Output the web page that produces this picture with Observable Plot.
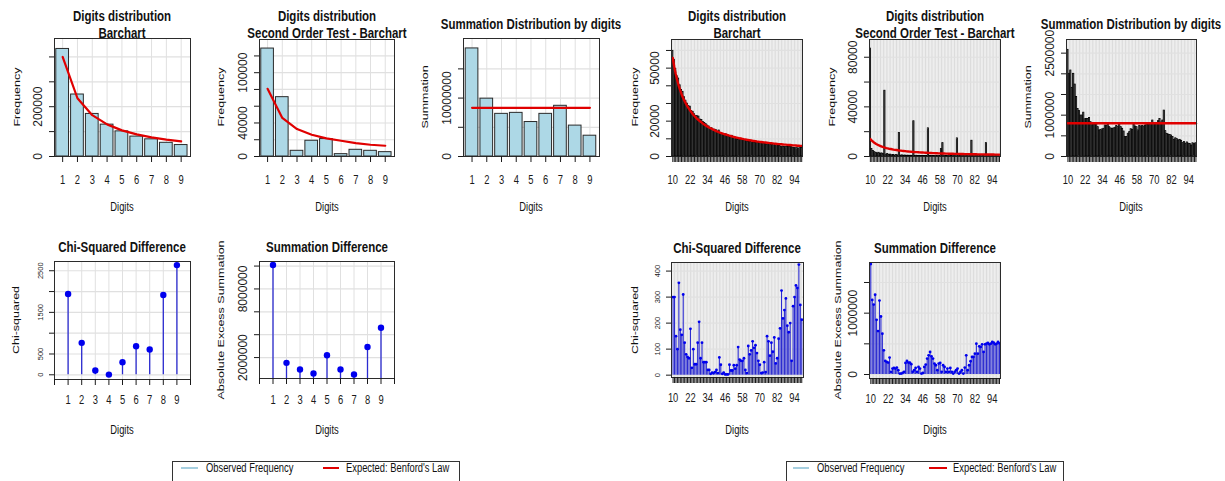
<!DOCTYPE html>
<html><head><meta charset="utf-8">
<script src="https://cdn.jsdelivr.net/npm/d3@7"></script>
<script src="https://cdn.jsdelivr.net/npm/@observablehq/plot@0.6"></script>
<style>
html,body{margin:0;padding:0;background:#fff;}
#root{position:relative;width:1225px;height:481px;overflow:hidden;font-family:"Liberation Sans",Arial,sans-serif;color:#111;}
.ttl{position:absolute;white-space:nowrap;transform:translate(-50%,-50%) scaleX(0.82);font-size:14px;font-weight:bold;line-height:17px;text-align:center;color:#111;}
.lbl{position:absolute;white-space:nowrap;transform:translate(-50%,-50%) scaleX(0.78);font-size:12px;line-height:14px;}
.ylbl{position:absolute;white-space:nowrap;transform:translate(-50%,-50%) rotate(-90deg) scaleY(0.78);font-size:12.5px;line-height:14px;}
.leg{position:absolute;border:1px solid #333;background:#fff;}
.legtxt{position:absolute;white-space:nowrap;transform:translateY(-50%) scaleX(0.78);transform-origin:0 50%;font-size:12px;line-height:14px;}
.legline{position:absolute;height:2px;}
</style>
</head><body><div id="root"></div>
<script>
// ---------- first-digit analysis (left) ----------
const digits1 = [1, 2, 3, 4, 5, 6, 7, 8, 9];
const fdObserved = [432000, 249000, 171000, 128000, 101000, 80000, 69000, 55000, 46000];
const fdExpected = [400000, 234000, 166000, 129000, 105000, 89000, 77000, 68000, 61000];
const soObserved = [128800, 70800, 6800, 18800, 20800, 2800, 8000, 6800, 5200];
const soExpected = [80800, 46000, 32800, 26000, 21600, 18800, 16000, 14000, 12800];
const sumObserved = [18500000, 9900000, 7300000, 7470000, 5900000, 7300000, 8680000, 5290000, 3560000];
const sumExpected = [8330000, 8330000, 8330000, 8330000, 8330000, 8330000, 8330000, 8330000, 8330000];
const chiFirst = [1941, 767, 104, 5, 303, 687, 607, 1917, 2636];
const sumDiffFirst = [10090000, 1540000, 960000, 610000, 2200000, 960000, 520000, 2930000, 4610000];

// ---------- first-two-digits analysis (right) ----------
const digits2 = [10,11,12,13,14,15,16,17,18,19,20,21,22,23,24,25,26,27,28,29,30,31,32,33,34,35,36,37,38,39,
40,41,42,43,44,45,46,47,48,49,50,51,52,53,54,55,56,57,58,59,60,61,62,63,64,65,66,67,68,69,
70,71,72,73,74,75,76,77,78,79,80,81,82,83,84,85,86,87,88,89,90,91,92,93,94,95,96,97,98,99];
const tdObserved = [
59800,54700,49500,45400,44100,40300,37700,36600,33600,31600,
29900,28500,28200,25700,25300,23900,23000,22800,22600,20900,
20700,19500,18900,18300,17500,17000,15700,16000,14900,15200,
14900,13800,14700,12700,12800,12400,12400,12500,11900,11100,
11100,11700,10400,10400,10100,9400,9500,9400,9300,9000,
9300,9200,8300,8300,8200,7800,7800,7700,7600,7700,
7700,7900,7800,7400,7600,6700,6700,6900,6500,6600,
6300,6600,6400,6000,5900,5400,5600,5400,5300,5500,
5500,5400,5800,5000,4900,4700,4700,4500,4700,4900];
const tdExpected = [
55700,50800,46800,43300,40300,37700,35400,33400,31600,30000,
28500,27200,26000,24900,23800,22900,22000,21200,20500,19800,
19200,18500,18000,17400,16900,16400,16000,15600,15200,14800,
14400,14100,13700,13400,13100,12800,12600,12300,12100,11800,
11600,11300,11100,10900,10700,10500,10300,10200,10000,9800,
9700,9500,9300,9200,9100,8900,8800,8700,8500,8400,
8300,8200,8100,8000,7900,7800,7700,7600,7500,7400,
7300,7200,7100,7000,7000,6900,6800,6700,6700,6600,
6500,6500,6400,6300,6300,6200,6100,6100,6000,6000];
const so2Observed = [
87000,6000,4500,3500,3000,2500,3000,2200,2500,2000,
53000,1500,2000,1200,1500,1000,1200,800,1200,900,
19000,700,900,600,800,500,700,500,600,500,
28400,500,600,400,500,400,500,400,450,400,
22700,400,500,400,450,300,400,300,400,6000,
10800,300,400,350,300,300,350,300,300,300,
14600,300,350,300,300,250,300,300,250,300,
12700,300,250,300,300,200,300,200,300,200,
10800,200,300,200,250,200,200,250,200,200];
const so2Expected = [
14000,12800,11700,10900,10100,9500,8900,8400,7900,7500,
7200,6800,6500,6200,6000,5800,5500,5300,5200,5000,
4800,4700,4500,4400,4300,4100,4000,3900,3800,3700,
3600,3500,3500,3400,3300,3200,3200,3100,3000,3000,
2900,2850,2800,2740,2690,2650,2600,2550,2500,2470,
2430,2390,2350,2310,2270,2240,2210,2180,2150,2120,
2090,2060,2030,2000,1980,1950,1930,1900,1880,1860,
1840,1810,1790,1770,1750,1730,1710,1690,1680,1660,
1640,1620,1610,1590,1570,1560,1540,1520,1510,1500];
const sum2Observed = [
2580000,2000000,2080000,1660000,2000000,1740000,1440000,1150000,1100000,990000,
990000,1060000,900000,910000,905000,930000,830000,775000,775000,770000,
790000,710000,630000,645000,655000,670000,750000,745000,775000,710000,
680000,665000,680000,695000,740000,710000,775000,710000,670000,605000,
470000,470000,550000,590000,660000,645000,775000,725000,710000,630000,
740000,725000,740000,725000,750000,790000,760000,775000,775000,870000,
790000,775000,790000,855000,905000,820000,870000,1110000,613000,548000,
530000,520000,508000,470000,403000,440000,420000,390000,403000,380000,
323000,350000,310000,340000,310000,300000,266000,320000,300000,320000];
const sum2Expected = [
806000,806000,806000,806000,806000,806000,806000,806000,806000,806000,
806000,806000,806000,806000,806000,806000,806000,806000,806000,806000,
806000,806000,806000,806000,806000,806000,806000,806000,806000,806000,
806000,806000,806000,806000,806000,806000,806000,806000,806000,806000,
806000,806000,806000,806000,806000,806000,806000,806000,806000,806000,
806000,806000,806000,806000,806000,806000,806000,806000,806000,806000,
806000,806000,806000,806000,806000,806000,806000,806000,806000,806000,
806000,806000,806000,806000,806000,806000,806000,806000,806000,806000,
806000,806000,806000,806000,806000,806000,806000,806000,806000,806000];
const chiTwo = [
300,300,150,100,355,175,155,310,125,80,
70,65,178,28,100,42,42,125,205,65,
125,50,50,50,20,20,5,10,8,12,
20,8,68,40,5,10,3,3,3,40,
18,18,38,25,38,108,60,55,55,65,
20,8,112,80,95,130,105,115,85,55,
40,8,10,50,12,150,130,75,125,90,
145,45,65,140,180,325,218,250,295,190,
165,200,55,265,300,345,335,425,270,213];
const sumDiffTwo = [
1800000,1216000,1140000,1300000,892000,708000,1205000,946000,665000,395000,
222000,205000,195000,276000,43000,97000,108000,97000,113000,70000,
16000,16000,25000,43000,189000,222000,195000,195000,168000,43000,
70000,108000,43000,124000,97000,16000,25000,124000,162000,260000,
313000,368000,295000,260000,178000,151000,70000,178000,189000,43000,
151000,124000,43000,97000,43000,108000,43000,16000,43000,70000,
97000,16000,43000,70000,16000,113000,313000,70000,151000,216000,
286000,286000,340000,503000,340000,460000,449000,492000,368000,492000,
503000,514000,492000,503000,530000,519000,492000,503000,530000,508000];

// tick labels
const ticks1to9 = [1, 2, 3, 4, 5, 6, 7, 8, 9];
const ticks0to10 = [0, 1, 2, 3, 4, 5, 6, 7, 8, 9, 10];
const labels2 = [10, 22, 34, 46, 58, 70, 82, 94];

// ---------- helpers ----------
const FONT = "Liberation Sans, Arial, sans-serif";
const root = document.getElementById("root");
const GRID = "#e0e0e0";
const GRID2 = "#dcdcdc";

function rows(xs, ...cols) {
  return xs.map((x, i) => ({x, a: cols[0] ? cols[0][i] : null, b: cols[1] ? cols[1][i] : null}));
}
function compress(svg, k) {
  svg.querySelectorAll("text").forEach(t => {
    const tr = t.getAttribute("transform") || "";
    if (tr.includes("rotate")) return;
    const L = t.getComputedTextLength();
    if (L > 0) { t.setAttribute("textLength", (L * k).toFixed(2)); t.setAttribute("lengthAdjust", "spacingAndGlyphs"); }
  });
}
function panel(c) {
  const ml = 50, mr = 6, mt = 4, mb = 34;
  const w = c.fx1 - c.fx0 + ml + mr, h = c.fy1 - c.fy0 + mt + mb;
  const svg = Plot.plot({
    width: w, height: h, marginLeft: ml, marginRight: mr, marginTop: mt, marginBottom: mb,
    style: {fontFamily: FONT, fontSize: "12px", background: "none", overflow: "visible", color: "#1a1a1a"},
    x: {type: "linear", domain: c.xDomain, axis: null},
    y: {type: "linear", domain: c.yDomain, axis: null},
    marks: [
      Plot.ruleX(c.xGrid, {x: d => d, stroke: c.gridX || GRID, strokeWidth: 1}),
      Plot.ruleY(c.yTicks, {y: d => d, stroke: GRID, strokeWidth: 1.2}),
      ...c.marks,
      Plot.frame({stroke: "#2b2b2b", strokeWidth: 1}),
      Plot.axisX({ticks: c.xTicks, tickSize: 6, tickFormat: () => "", label: null}),
      Plot.axisY({ticks: c.yTicks, tickSize: 5, tickFormat: () => "", label: null}),
      Plot.text(c.xLabels, {x: d => d, text: d => String(d), frameAnchor: "bottom", dy: c.xDy || 24, lineAnchor: "middle", fontSize: 12, fill: "#1a1a1a"}),
      Plot.text(c.yLabels, {y: d => d, text: d => String(d), frameAnchor: "left", dx: -(c.yOff || 16), rotate: -90, textAnchor: "middle", lineAnchor: "middle", fontSize: c.yFont || 12, fill: "#1a1a1a"})
    ]
  });
  svg.style.position = "absolute";
  svg.style.left = (c.fx0 - ml) + "px";
  svg.style.top = (c.fy0 - mt) + "px";
  root.appendChild(svg);
  compress(svg, 0.78);
}
function div(cls, html, x, y) {
  const d = document.createElement("div");
  d.className = cls; d.innerHTML = html;
  d.style.left = x + "px"; d.style.top = y + "px";
  root.appendChild(d);
  return d;
}

// mark builders
function barsWide(xs, vals, exp, hw) {
  const data = rows(xs, vals, exp);
  return [
    Plot.rect(data, {x1: d => d.x - hw, x2: d => d.x + hw, y1: 0, y2: d => d.a, fill: "#add8e6", stroke: "#2a2a2a", strokeWidth: 1}),
    Plot.line(data, {x: "x", y: "b", stroke: "#e00000", strokeWidth: 2.2})
  ];
}
function barsDense(xs, vals, exp) {
  const data = rows(xs, vals, exp);
  return [
    Plot.rect(data, {x1: d => d.x - 0.42, x2: d => d.x + 0.42, y1: 0, y2: d => d.a, fill: "#666", stroke: "#000", strokeWidth: 0.8, clip: true}),
    Plot.line(data, {x: "x", y: "b", stroke: "#e00000", strokeWidth: 2.4})
  ];
}
function lollipop(xs, vals, r, stemW) {
  const data = rows(xs, vals);
  return [
    Plot.ruleX(data, {x: "x", y1: 0, y2: "a", stroke: "#2b2bd0", strokeWidth: stemW, clip: true}),
    Plot.dot(data, {x: "x", y: "a", r, fill: "#0000ee", stroke: "none"})
  ];
}

// ---------- left half ----------
panel({fx0: 54, fx1: 190, fy0: 38, fy1: 156, xDomain: [0.45, 9.63], yDomain: [0, 474000],
  xGrid: ticks1to9, xTicks: ticks1to9, xLabels: ticks1to9,
  yTicks: [0, 100000, 200000, 300000, 400000], yLabels: [0, 200000],
  marks: barsWide(digits1, fdObserved, fdExpected, 0.43)});
panel({fx0: 259, fx1: 394, fy0: 39, fy1: 156, xDomain: [0.45, 9.63], yDomain: [0, 139600],
  xGrid: ticks1to9, xTicks: ticks1to9, xLabels: ticks1to9,
  yTicks: [0, 20000, 40000, 60000, 80000, 100000, 120000], yLabels: [0, 40000, 100000],
  marks: barsWide(digits1, soObserved, soExpected, 0.43)});
panel({fx0: 463, fx1: 599, fy0: 38, fy1: 156, xDomain: [0.42, 9.65], yDomain: [0, 20200000],
  xGrid: ticks1to9, xTicks: ticks1to9, xLabels: ticks1to9,
  yTicks: [0, 5000000, 10000000, 15000000], yLabels: [0, 10000000],
  marks: barsWide(digits1, sumObserved, sumExpected, 0.43)});
panel({fx0: 54, fx1: 190, fy0: 261, fy1: 379, xDomain: [0, 10], yDomain: [-113, 2722],
  xGrid: ticks0to10, xTicks: ticks0to10, xLabels: ticks1to9, xDy: 21,
  yTicks: [0, 500, 1000, 1500, 2000, 2500], yLabels: [0, 500, 1500, 2500], yFont: 7.5, yOff: 14,
  marks: lollipop(digits1, chiFirst, 3.2, 1.3)});
panel({fx0: 259, fx1: 394, fy0: 261, fy1: 378, xDomain: [0, 10], yDomain: [170000, 10400000],
  xGrid: ticks0to10, xTicks: ticks0to10, xLabels: ticks1to9, xDy: 22,
  yTicks: [2000000, 4000000, 6000000, 8000000, 10000000], yLabels: [2000000, 8000000],
  marks: lollipop(digits1, sumDiffFirst, 3.2, 1.3)});

// ---------- right half ----------
panel({fx0: 671, fx1: 802, fy0: 39, fy1: 156, xDomain: [9.1, 99.55], yDomain: [0, 66200],
  xGrid: digits2, gridX: GRID2, xTicks: digits2, xLabels: labels2,
  yTicks: [0, 10000, 20000, 30000, 40000, 50000, 60000], yLabels: [0, 20000, 50000],
  marks: barsDense(digits2, tdObserved, tdExpected)});
panel({fx0: 869, fx1: 1000, fy0: 39, fy1: 156, xDomain: [9.4, 99.7], yDomain: [0, 94300],
  xGrid: digits2, gridX: GRID2, xTicks: digits2, xLabels: labels2,
  yTicks: [0, 20000, 40000, 60000, 80000], yLabels: [0, 40000, 80000],
  marks: barsDense(digits2, so2Observed, so2Expected)});
panel({fx0: 1066, fx1: 1196, fy0: 39, fy1: 156, xDomain: [9.0, 99.4], yDomain: [0, 2830000],
  xGrid: digits2, gridX: GRID2, xTicks: digits2, xLabels: labels2,
  yTicks: [0, 500000, 1000000, 1500000, 2000000, 2500000], yLabels: [0, 1000000, 2500000],
  marks: barsDense(digits2, sum2Observed, sum2Expected)});
panel({fx0: 671, fx1: 803, fy0: 262, fy1: 377, xDomain: [8.9, 100.2], yDomain: [-9, 433],
  xGrid: digits2, gridX: GRID2, xTicks: digits2, xLabels: labels2, xDy: 21,
  yTicks: [0, 100, 200, 300, 400], yLabels: [0, 100, 200, 300, 400], yFont: 7.5, yOff: 14,
  marks: lollipop(digits2, chiTwo, 1.4, 1.1)});
panel({fx0: 869, fx1: 1000, fy0: 262, fy1: 378, xDomain: [9.1, 99.7], yDomain: [-65000, 1826000],
  xGrid: digits2, gridX: GRID2, xTicks: digits2, xLabels: labels2, xDy: 21,
  yTicks: [0, 500000, 1000000, 1500000], yLabels: [0, 1000000],
  marks: lollipop(digits2, sumDiffTwo, 1.4, 1.1)});

// ---------- titles and axis labels ----------
const titles = [
  ["Digits distribution<br>Barchart", 122, 24.5],
  ["Digits distribution<br>Second Order Test - Barchart", 326.5, 24.5],
  ["Summation Distribution by digits", 531, 24],
  ["Digits distribution<br>Barchart", 736.5, 24.5],
  ["Digits distribution<br>Second Order Test - Barchart", 934.5, 24.5],
  ["Summation Distribution by digits", 1131, 24],
  ["Chi-Squared Difference", 122, 247],
  ["Summation Difference", 326.5, 247],
  ["Chi-Squared Difference", 736.5, 248],
  ["Summation Difference", 934.5, 248]
];
titles.forEach(([t, x, y]) => div("ttl", t, x, y));
[[122, 207], [326.5, 207], [531, 207], [736.5, 207], [934.5, 207], [1131, 207],
 [122, 430], [326.5, 430], [736.5, 430], [934.5, 430]].forEach(([x, y]) => div("lbl", "Digits", x, y));
[["Frequency", 16.5, 97], ["Frequency", 220.5, 97], ["Summation", 425, 97],
 ["Frequency", 635, 97], ["Frequency", 832, 97], ["Summation", 1028, 97],
 ["Chi-squared", 16, 320], ["Absolute Excess Summation", 220.5, 320],
 ["Chi-squared", 635, 320], ["Absolute Excess Summation", 838, 320]].forEach(([t, x, y]) => div("ylbl", t, x, y));

// ---------- legends ----------
function legend(x0, x1, blue, txt1, red, txt2) {
  const b = div("leg", "", x0, 461);
  b.style.width = (x1 - x0) + "px"; b.style.height = "40px";
  const l1 = div("legline", "", blue[0], 466.5); l1.style.width = (blue[1] - blue[0]) + "px"; l1.style.background = "#a6cfe0";
  div("legtxt", "Observed Frequency", txt1, 467.5);
  const l2 = div("legline", "", red[0], 466.5); l2.style.width = (red[1] - red[0]) + "px"; l2.style.background = "#e00000";
  div("legtxt", "Expected: Benford's Law", txt2, 467.5);
}
legend(172, 458, [181, 198], 206, [323, 339], 346);
legend(786, 1062, [793, 809], 817, [929, 947], 953);
</script>
</body></html>
